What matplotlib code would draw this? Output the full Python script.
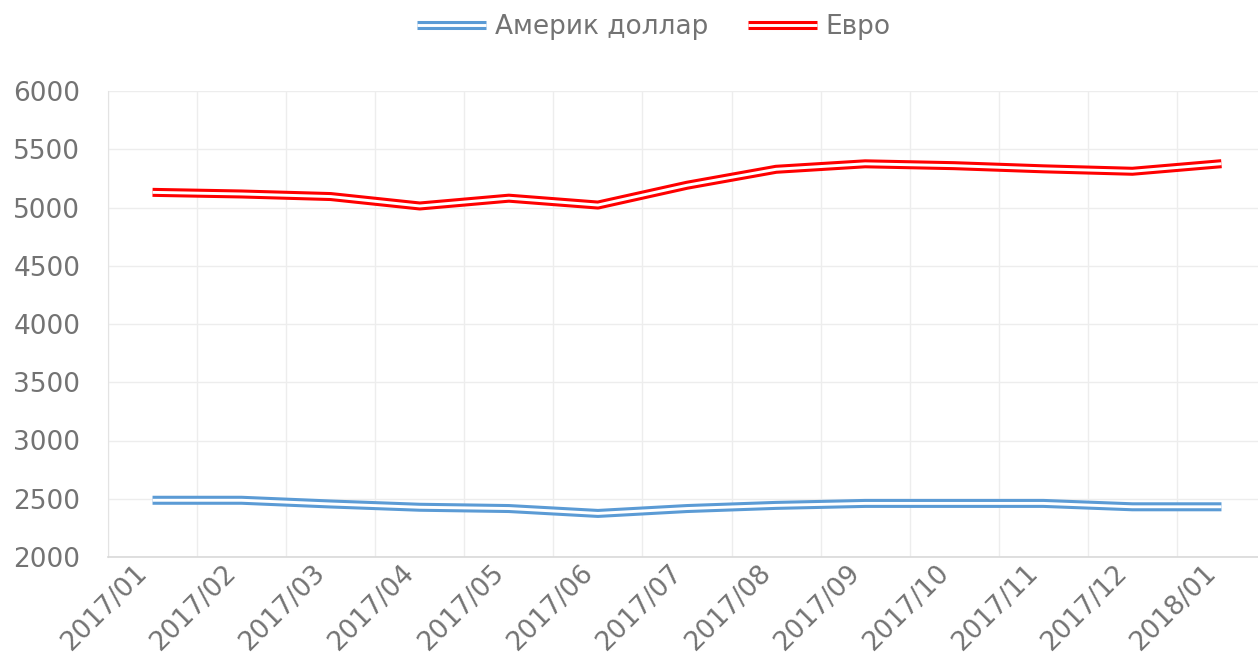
import matplotlib
matplotlib.use("Agg")
import matplotlib.pyplot as plt
import matplotlib.patheffects as pe

categories = ["2017/01", "2017/02", "2017/03", "2017/04", "2017/05", "2017/06", "2017/07",
              "2017/08", "2017/09", "2017/10", "2017/11", "2017/12", "2018/01"]
usd = [2487, 2487, 2455, 2427, 2416, 2374, 2416, 2443, 2460, 2460, 2460, 2431, 2431]
eur = [5130, 5116, 5094, 5013, 5080, 5021, 5191, 5328, 5375, 5359, 5332, 5311, 5376]
series_names = ["Америк доллар", "Евро"]
series_colors = ["#5B9BD5", "#FF0000"]
yticks = [2000, 2500, 3000, 3500, 4000, 4500, 5000, 5500, 6000]

W, H = 1258, 666
fig = plt.figure(figsize=(W / 100, H / 100), dpi=100)
ax = fig.add_axes([108 / W, 1 - 557 / H, (1266 - 108) / W, (557 - 91) / H])

x = list(range(len(categories)))
for vals, name, col in zip([usd, eur], series_names, series_colors):
    ax.plot(x, vals, color="white", lw=2.1, label=name,
            solid_joinstyle="round", solid_capstyle="butt",
            path_effects=[pe.Stroke(linewidth=6.5, foreground=col), pe.Normal()])

ax.set_xlim(-0.5, len(categories) - 0.5)
ax.set_ylim(2000, 6000)
ax.set_yticks(yticks)
ax.set_xticks(x)
ax.set_xticklabels(categories, rotation=45, ha="right", rotation_mode="default")
ax.set_xticks([i - 0.5 for i in range(len(categories) + 1)], minor=True)

ax.grid(False)
ax.grid(True, which="minor", axis="x", color="#EDEDED", lw=1)
ax.grid(True, which="major", axis="y", color="#EDEDED", lw=1)
ax.set_axisbelow(True)

for s in ["top", "right"]:
    ax.spines[s].set_visible(False)
ax.spines["left"].set_color("#E3E3E3")
ax.spines["bottom"].set_color("#D9D9D9")
ax.spines["bottom"].set_linewidth(1.2)

ax.tick_params(axis="both", which="both", length=0, labelsize=19, labelcolor="#737373")
ax.tick_params(axis="y", pad=20)
ax.tick_params(axis="x", pad=2)

leg = fig.legend(loc="center", bbox_to_anchor=(654 / W, 1 - 27 / H), ncol=2, frameon=False,
                 fontsize=19, handlelength=2.6, handletextpad=0.35, columnspacing=1.5,
                 labelcolor="#737373")

fig.savefig("out.png", dpi=100, facecolor="white")
